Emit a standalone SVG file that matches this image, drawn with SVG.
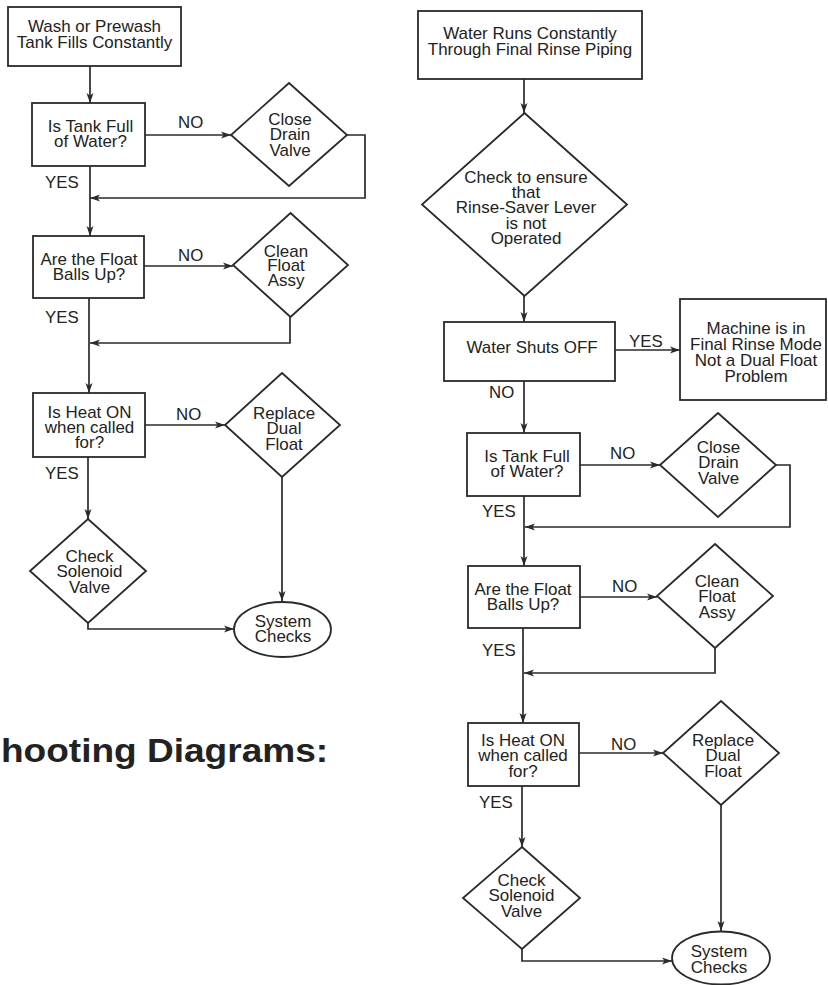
<svg xmlns="http://www.w3.org/2000/svg" width="828" height="985" viewBox="0 0 828 985">
<style>
.n{fill:#fff;stroke:#2a2a2a;stroke-width:1.8}
.c{fill:none;stroke:#2a2a2a;stroke-width:1.7}
text{font-family:"Liberation Sans",Arial,sans-serif;font-size:15.7px;fill:#222}
.t{text-anchor:middle}
.h{font-size:32.5px;font-weight:bold}
</style>
<defs>
<marker id="a" markerUnits="userSpaceOnUse" markerWidth="11" markerHeight="8" refX="10" refY="4" orient="auto">
<path d="M0,0.5 L10,4 L0,7.5 L2.5,4 Z" fill="#2a2a2a"/>
</marker>
</defs>
<text class="h" transform="translate(1,762) scale(1.14,1)">hooting Diagrams:</text>
<g id="connectors">
<path class="c" d="M90,66 V103" marker-end="url(#a)"/>
<path class="c" d="M145,135 H231" marker-end="url(#a)"/>
<path class="c" d="M347,135 H365 V198 H90" marker-end="url(#a)"/>
<path class="c" d="M90,166 V236" marker-end="url(#a)"/>
<path class="c" d="M144,266 H233" marker-end="url(#a)"/>
<path class="c" d="M290,317 V343 H90" marker-end="url(#a)"/>
<path class="c" d="M89,298 V393" marker-end="url(#a)"/>
<path class="c" d="M145,425 H225" marker-end="url(#a)"/>
<path class="c" d="M282,477 V601" marker-end="url(#a)"/>
<path class="c" d="M88,457 V519" marker-end="url(#a)"/>
<path class="c" d="M88,623 V629 H234" marker-end="url(#a)"/>
<path class="c" d="M524,79 V113" marker-end="url(#a)"/>
<path class="c" d="M524,296 V322" marker-end="url(#a)"/>
<path class="c" d="M615,350 H680" marker-end="url(#a)"/>
<path class="c" d="M524,381 V433" marker-end="url(#a)"/>
<path class="c" d="M580,465 H660" marker-end="url(#a)"/>
<path class="c" d="M776,465 H790 V527 H525" marker-end="url(#a)"/>
<path class="c" d="M524,496 V566" marker-end="url(#a)"/>
<path class="c" d="M580,597 H657" marker-end="url(#a)"/>
<path class="c" d="M715,648 V673 H524" marker-end="url(#a)"/>
<path class="c" d="M523,628 V723" marker-end="url(#a)"/>
<path class="c" d="M579,753 H663" marker-end="url(#a)"/>
<path class="c" d="M721,805 V931" marker-end="url(#a)"/>
<path class="c" d="M522,786 V847" marker-end="url(#a)"/>
<path class="c" d="M522,949 V961 H672" marker-end="url(#a)"/>
<text transform="translate(178,128) scale(1.07,1)">NO</text>
<text transform="translate(45,188) scale(1.07,1)">YES</text>
<text transform="translate(178,261) scale(1.07,1)">NO</text>
<text transform="translate(45,323) scale(1.07,1)">YES</text>
<text transform="translate(176,420) scale(1.07,1)">NO</text>
<text transform="translate(45,479) scale(1.07,1)">YES</text>
<text transform="translate(629,347) scale(1.07,1)">YES</text>
<text transform="translate(489,398) scale(1.07,1)">NO</text>
<text transform="translate(610,459) scale(1.07,1)">NO</text>
<text transform="translate(482,517) scale(1.07,1)">YES</text>
<text transform="translate(612,592) scale(1.07,1)">NO</text>
<text transform="translate(482,656) scale(1.07,1)">YES</text>
<text transform="translate(611,750) scale(1.07,1)">NO</text>
<text transform="translate(479,808) scale(1.07,1)">YES</text>
</g>
<g id="l1"><rect class="n" x="8" y="7" width="173" height="59"/>
<text class="t" transform="translate(94.5,32) scale(1.08,1)"><tspan x="0">Wash or Prewash</tspan><tspan x="0" dy="16">Tank Fills Constantly</tspan></text></g>
<g id="l2"><rect class="n" x="32" y="103" width="113" height="63"/>
<text class="t" transform="translate(90.5,132) scale(1.08,1)"><tspan x="0">Is Tank Full</tspan><tspan x="0" dy="15.5">of Water?</tspan></text></g>
<g id="l3"><polygon class="n" points="289,83 347,135 289,186 231,135"/>
<text class="t" transform="translate(290,125) scale(1.08,1)"><tspan x="0">Close</tspan><tspan x="0" dy="15.3">Drain</tspan><tspan x="0" dy="15.3">Valve</tspan></text></g>
<g id="l4"><rect class="n" x="33" y="236" width="111" height="62"/>
<text class="t" transform="translate(89,265) scale(1.08,1)"><tspan x="0">Are the Float</tspan><tspan x="0" dy="15.5">Balls Up?</tspan></text></g>
<g id="l5"><polygon class="n" points="290.5,213 348,265 290.5,317 233,265"/>
<text class="t" transform="translate(286,256.5) scale(1.08,1)"><tspan x="0">Clean</tspan><tspan x="0" dy="15">Float</tspan><tspan x="0" dy="15">Assy</tspan></text></g>
<g id="l6"><rect class="n" x="33" y="393" width="112" height="64"/>
<text class="t" transform="translate(89.5,418) scale(1.08,1)"><tspan x="0">Is Heat ON</tspan><tspan x="0" dy="15">when called</tspan><tspan x="0" dy="15">for?</tspan></text></g>
<g id="l7"><polygon class="n" points="282,373 340,425 282,477 225,425"/>
<text class="t" transform="translate(284,419) scale(1.08,1)"><tspan x="0">Replace</tspan><tspan x="0" dy="15.3">Dual</tspan><tspan x="0" dy="15.3">Float</tspan></text></g>
<g id="l8"><polygon class="n" points="88,519 146,571 88,623 30,571"/>
<text class="t" transform="translate(89.5,562) scale(1.08,1)"><tspan x="0">Check</tspan><tspan x="0" dy="15.5">Solenoid</tspan><tspan x="0" dy="15.5">Valve</tspan></text></g>
<g id="l9"><ellipse class="n" cx="282.5" cy="629.5" rx="48.5" ry="27.5"/>
<text class="t" transform="translate(283,627) scale(1.08,1)"><tspan x="0">System</tspan><tspan x="0" dy="15.5">Checks</tspan></text></g>
<g id="r1"><rect class="n" x="418" y="11" width="224" height="68"/>
<text class="t" transform="translate(530,39) scale(1.08,1)"><tspan x="0">Water Runs Constantly</tspan><tspan x="0" dy="16">Through Final Rinse Piping</tspan></text></g>
<g id="r2"><polygon class="n" points="524.5,113 627,204.5 524.5,296 422,204.5"/>
<text class="t" transform="translate(526,183) scale(1.08,1)"><tspan x="0">Check to ensure</tspan><tspan x="0" dy="15.2">that</tspan><tspan x="0" dy="15.2">Rinse-Saver Lever</tspan><tspan x="0" dy="15.2">is not</tspan><tspan x="0" dy="15.2">Operated</tspan></text></g>
<g id="r3"><rect class="n" x="444" y="322" width="171" height="59"/>
<text class="t" transform="translate(532,353) scale(1.08,1)">Water Shuts OFF</text></g>
<g id="r4"><rect class="n" x="680" y="299" width="146" height="101"/>
<text class="t" transform="translate(756,334) scale(1.08,1)"><tspan x="0">Machine is in</tspan><tspan x="0" dy="16">Final Rinse Mode</tspan><tspan x="0" dy="16">Not a Dual Float</tspan><tspan x="0" dy="16">Problem</tspan></text></g>
<g id="r5"><rect class="n" x="467" y="433" width="113" height="63"/>
<text class="t" transform="translate(527,462) scale(1.08,1)"><tspan x="0">Is Tank Full</tspan><tspan x="0" dy="15.5">of Water?</tspan></text></g>
<g id="r6"><polygon class="n" points="718,413 776,465 718,517 660,465"/>
<text class="t" transform="translate(718.5,453) scale(1.08,1)"><tspan x="0">Close</tspan><tspan x="0" dy="15.5">Drain</tspan><tspan x="0" dy="15.5">Valve</tspan></text></g>
<g id="r7"><rect class="n" x="468" y="566" width="112" height="62"/>
<text class="t" transform="translate(523,595) scale(1.08,1)"><tspan x="0">Are the Float</tspan><tspan x="0" dy="15.5">Balls Up?</tspan></text></g>
<g id="r8"><polygon class="n" points="715,544 773,596 715,648 657,596"/>
<text class="t" transform="translate(717,587) scale(1.08,1)"><tspan x="0">Clean</tspan><tspan x="0" dy="15.5">Float</tspan><tspan x="0" dy="15.5">Assy</tspan></text></g>
<g id="r9"><rect class="n" x="468" y="723" width="111" height="63"/>
<text class="t" transform="translate(523,746) scale(1.08,1)"><tspan x="0">Is Heat ON</tspan><tspan x="0" dy="15.5">when called</tspan><tspan x="0" dy="15.5">for?</tspan></text></g>
<g id="r10"><polygon class="n" points="721,701 779,753 721,805 663,753"/>
<text class="t" transform="translate(723,746) scale(1.08,1)"><tspan x="0">Replace</tspan><tspan x="0" dy="15.5">Dual</tspan><tspan x="0" dy="15.5">Float</tspan></text></g>
<g id="r11"><polygon class="n" points="522,847 580,898 522,949 463,898"/>
<text class="t" transform="translate(521.5,886) scale(1.08,1)"><tspan x="0">Check</tspan><tspan x="0" dy="15.5">Solenoid</tspan><tspan x="0" dy="15.5">Valve</tspan></text></g>
<g id="r12"><ellipse class="n" cx="721" cy="958" rx="49" ry="26.5"/>
<text class="t" transform="translate(719,957) scale(1.08,1)"><tspan x="0">System</tspan><tspan x="0" dy="16">Checks</tspan></text></g>
</svg>
